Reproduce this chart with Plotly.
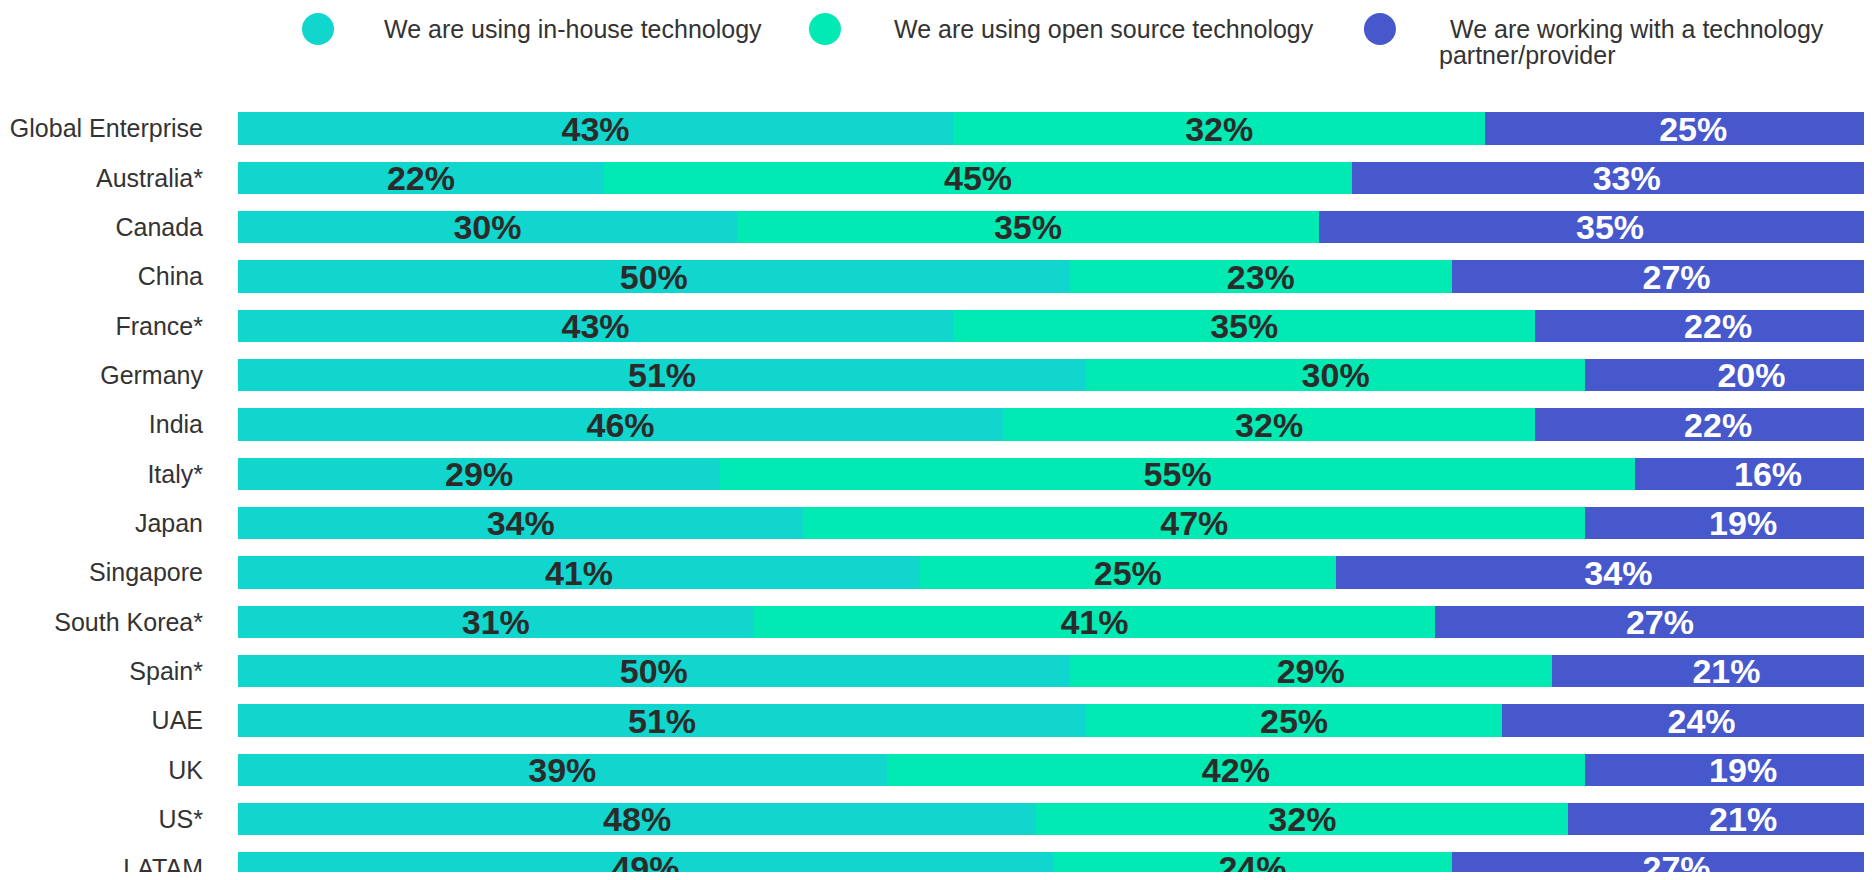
import plotly.graph_objects as go

categories = ["Global Enterprise", "Australia*", "Canada", "China", "France*", "Germany",
              "India", "Italy*", "Japan", "Singapore", "South Korea*", "Spain*", "UAE",
              "UK", "US*", "LATAM"]

in_house = [43, 22, 30, 50, 43, 51, 46, 29, 34, 41, 31, 50, 51, 39, 48, 49]
open_source = [32, 45, 35, 23, 35, 30, 32, 55, 47, 25, 41, 29, 25, 42, 32, 24]
partner = [25, 33, 35, 27, 22, 20, 22, 16, 19, 34, 27, 21, 24, 19, 21, 27]

series_names = ["We are using in-house technology",
                "We are using open source technology",
                "We are working with a technology partner/provider"]
colors = ["#10D6CE", "#02EAB4", "#4758CC"]
label_colors = ["#2b2b2b", "#2b2b2b", "#ffffff"]

fig = go.Figure()

for name, vals, col, tcol in zip(series_names, [in_house, open_source, partner], colors, label_colors):
    fig.add_trace(go.Bar(
        y=categories, x=vals,
        orientation="h",
        name=name,
        marker=dict(color=col, line=dict(width=0)),
        text=[f"{v}%" for v in vals],
        textposition="inside",
        insidetextanchor="middle",
        constraintext="none",
        textfont=dict(family="Liberation Sans, Arial", size=34, color=tcol, weight="bold"),
        showlegend=False,
        hoverinfo="y+x+name",
    ))

# custom legend: big circles + text (plotly legend symbols max out at 16px)
font_txt = dict(family="Liberation Sans, Arial", size=25, color="#333333")
circle_x = [0.0492, 0.3610, 0.7023]
text_x = [0.0886, 0.4022, 0.7442]
legend_y = 1.092
legend_texts = ["We are using in-house technology",
                "We are using open source technology",
                "We are working with a technology"]

for cx, tx, col, txt in zip(circle_x, text_x, colors, legend_texts):
    fig.add_shape(type="circle", xref="paper", yref="paper",
                  xsizemode="pixel", ysizemode="pixel",
                  xanchor=cx, yanchor=legend_y,
                  x0=-16, x1=16, y0=-16, y1=16,
                  fillcolor=col, line=dict(width=0))
    fig.add_annotation(x=tx, y=legend_y, xref="paper", yref="paper",
                       xanchor="left", yanchor="middle", showarrow=False,
                       text=txt, font=font_txt)

fig.add_annotation(x=0.7374, y=1.0583, xref="paper", yref="paper",
                   xanchor="left", yanchor="middle", showarrow=False,
                   text="partner/provider", font=font_txt)

fig.update_layout(
    width=1856, height=864,
    barmode="stack",
    bargap=0.35,
    plot_bgcolor="white",
    paper_bgcolor="white",
    margin=dict(l=230, r=0, t=92, b=0, pad=0),
    xaxis=dict(visible=False, range=[0, 97.77], fixedrange=True, automargin=False),
    yaxis=dict(
        range=[15.071, -0.578],
        automargin=False,
        showgrid=False, showline=False, zeroline=False,
        ticks="", ticklabelstandoff=34,
        tickfont=dict(family="Liberation Sans, Arial", size=25, color="#333333"),
    ),
)

fig.write_html("out.html")
